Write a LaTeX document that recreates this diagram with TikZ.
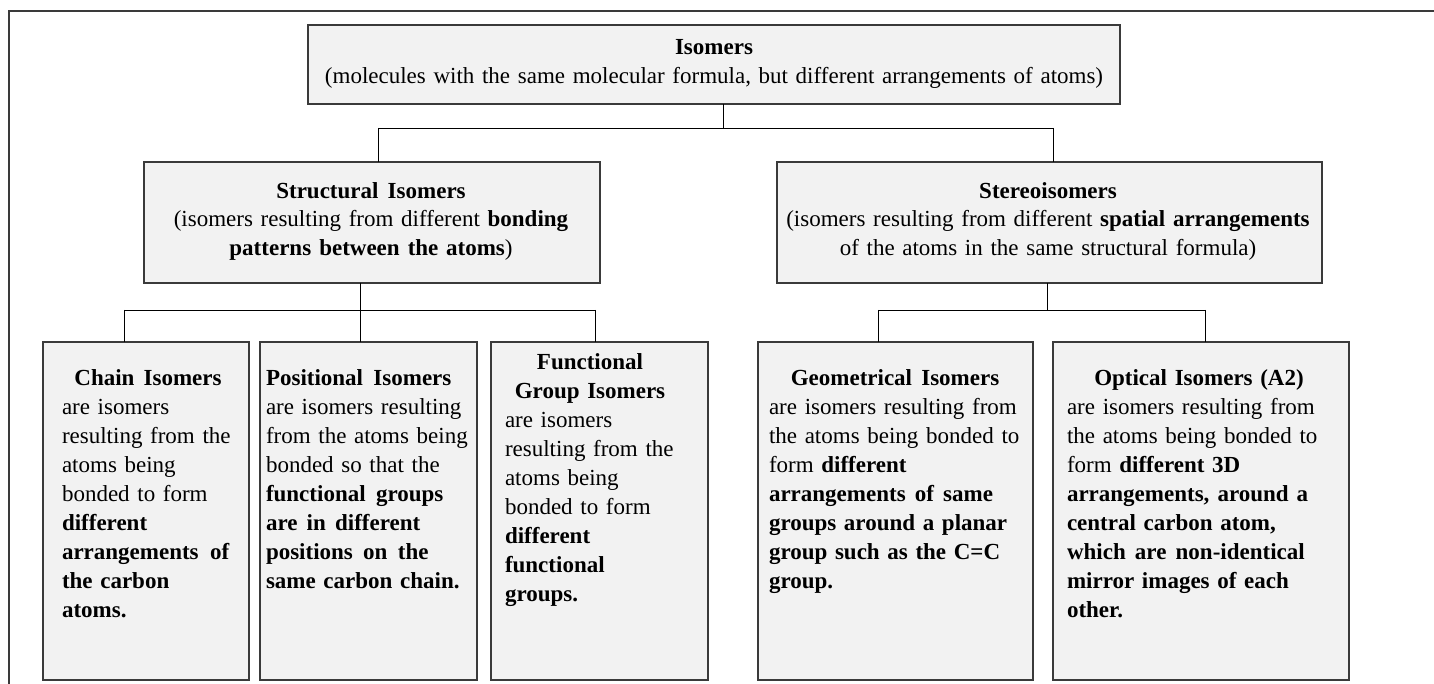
\documentclass[tikz,border=0pt]{standalone}
\usepackage{fontspec}
\setmainfont{Liberation Serif}
\definecolor{boxgray}{HTML}{F2F2F2}
\definecolor{edge}{HTML}{3A3A3A}
\begin{document}
\begin{tikzpicture}[x=1pt,y=-1pt,
  box/.style={draw=edge, line width=1.3pt, fill=boxgray, inner sep=0pt, outer sep=0pt, anchor=north west},
  conn/.style={draw=black, line width=0.9pt},
  txt/.style={inner sep=0pt, outer sep=0pt, font=\fontsize{23}{29}\selectfont, align=left, text width=320pt, anchor=base west},
  ctxt/.style={inner sep=0pt, outer sep=0pt, font=\fontsize{23}{28.5}\selectfont, align=center, anchor=base}]
\useasboundingbox (0,0) rectangle (1434,684);
% outer frame
\draw[line width=1.2pt, edge] (9,684) -- (9,11) -- (1434,11);
% boxes
\node[box, minimum width=812pt, minimum height=79pt] (top) at (308,25) {};
\node[box, minimum width=456pt, minimum height=121pt] (struct) at (144,162) {};
\node[box, minimum width=545pt, minimum height=121pt] (stereo) at (777,162) {};
\node[box, minimum width=206pt, minimum height=338pt] (chain) at (43,342) {};
\node[box, minimum width=217pt, minimum height=338pt] (pos) at (260,342) {};
\node[box, minimum width=217pt, minimum height=338pt] (func) at (491,342) {};
\node[box, minimum width=275pt, minimum height=338pt] (geo) at (758,342) {};
\node[box, minimum width=296pt, minimum height=338pt] (opt) at (1053,342) {};
% connectors
\coordinate (ja) at (723,128);
\coordinate (jb) at (378,128);
\coordinate (jc) at (1053,128);
\draw[conn] (top.south -| ja) -- (ja);
\draw[conn] (jb) -- (jc);
\draw[conn] (jb) -- (jb |- struct.north);
\draw[conn] (jc) -- (jc |- stereo.north);
\coordinate (sa) at (360,310);
\coordinate (sb) at (124,310);
\coordinate (sc) at (595,310);
\draw[conn] (struct.south -| sa) -- (sa);
\draw[conn] (sb) -- (sc);
\draw[conn] (sb) -- (sb |- chain.north);
\draw[conn] (sa) -- (sa |- pos.north);
\draw[conn] (sc) -- (sc |- func.north);
\coordinate (ta) at (1047,310);
\coordinate (tb) at (878,310);
\coordinate (tc) at (1205,310);
\draw[conn] (stereo.south -| ta) -- (ta);
\draw[conn] (tb) -- (tc);
\draw[conn] (tb) -- (tb |- geo.north);
\draw[conn] (tc) -- (tc |- opt.north);
% texts
\node[ctxt, text width=800pt] (ttop) at (714,55)
  {\textbf{Isomers}\\(molecules with the same molecular formula, but different arrangements of atoms)};
\node[ctxt, text width=440pt] (tstruct) at (371,198.5)
  {\textbf{Structural\hspace{0.4em}Isomers}\\(isomers resulting from different \textbf{bonding}\\\textbf{patterns\hspace{0.35em}between\hspace{0.35em}the atoms})};
\node[ctxt, text width=540pt] (tstereo) at (1048,198.5)
  {\textbf{Stereoisomers}\\(isomers resulting from different \textbf{spatial arrangements}\\of the atoms in the same structural formula)};
\node[txt] (tchain) at (62,385)
  {\makebox[172pt]{\textbf{Chain\hspace{0.4em}Isomers}}\\are isomers\\resulting from the\\atoms being\\bonded to form\\\textbf{different}\\\textbf{arrangements\hspace{0.5em}of}\\\textbf{the carbon}\\\textbf{atoms.}};
\node[txt] (tpos) at (266,385)
  {\textbf{Positional\hspace{0.45em}Isomers}\\are isomers resulting\\from the atoms being\\bonded so that the\\\textbf{functional\hspace{0.45em}groups}\\\textbf{are\hspace{0.4em}in\hspace{0.4em}different}\\\textbf{positions\hspace{0.45em}on\hspace{0.45em}the}\\\textbf{same carbon chain.}};
\node[txt] (tfunc) at (505,369)
  {\makebox[170pt]{\textbf{Functional}}\\\makebox[170pt]{\textbf{Group Isomers}}\\are isomers\\resulting from the\\atoms being\\bonded to form\\\textbf{different}\\\textbf{functional}\\\textbf{groups.}};
\node[txt] (tgeo) at (769,385)
  {\makebox[252pt]{\textbf{Geometrical\hspace{0.4em}Isomers}}\\are isomers resulting from\\the atoms being bonded to\\form \textbf{different}\\\textbf{arrangements\hspace{0.4em}of\hspace{0.4em}same}\\\textbf{groups around a planar}\\\textbf{group such as the C=C}\\\textbf{group.}};
\node[txt] (topt) at (1067,385)
  {\makebox[252pt]{\hspace{12pt}\textbf{Optical Isomers (A2)}}\\are isomers resulting from\\the atoms being bonded to\\form \textbf{different 3D}\\\textbf{arrangements,\hspace{0.35em}around\hspace{0.35em}a}\\\textbf{central carbon atom,}\\\textbf{which\hspace{0.4em}are\hspace{0.4em}non-identical}\\\textbf{mirror images of each}\\\textbf{other.}};
\end{tikzpicture}
\end{document}
